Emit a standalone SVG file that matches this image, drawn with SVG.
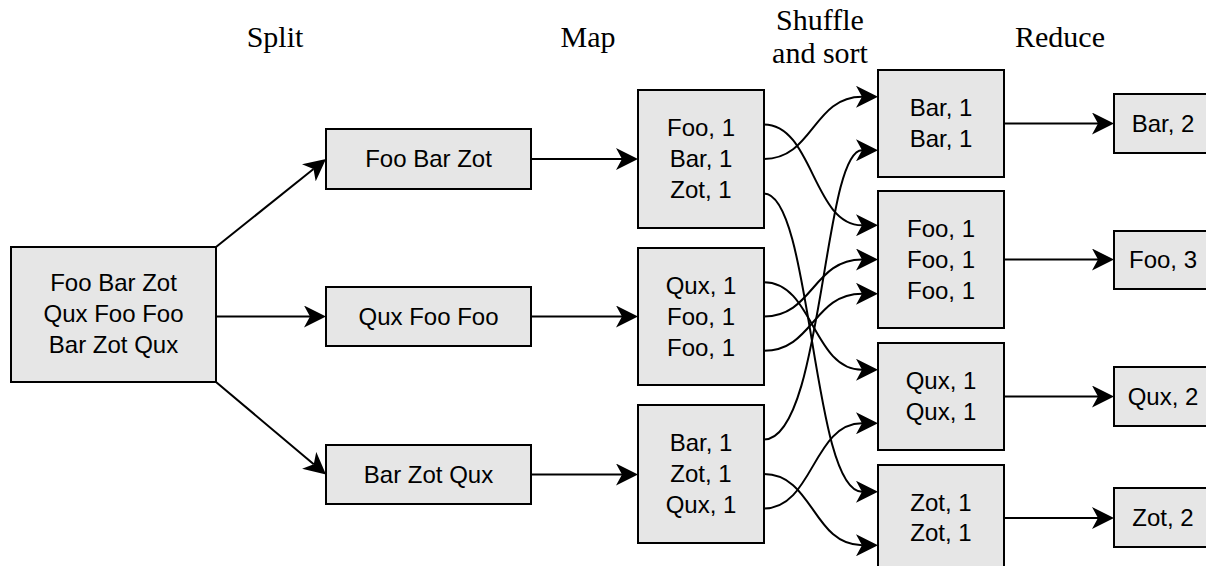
<svg xmlns="http://www.w3.org/2000/svg" width="1206" height="566" viewBox="0 0 1206 566">
<style>
.box{fill:#e6e6e6;stroke:#000;stroke-width:2}
.t{font-family:"Liberation Sans",Arial,sans-serif;font-size:24px;fill:#000;text-anchor:middle}
.h{font-family:"Liberation Serif","Times New Roman",serif;font-size:30px;fill:#000;text-anchor:middle}
.e{fill:none;stroke:#000;stroke-width:2;marker-end:url(#arr)}
</style>
<defs>
<marker id="arr" markerUnits="userSpaceOnUse" viewBox="0 -11 22 22" markerWidth="22" markerHeight="22" refX="6" refY="0" orient="auto">
<path d="M22,0 L0,-11 L6,0 L0,11 Z" fill="#000"/>
</marker>
</defs>
<rect width="1206" height="566" fill="#fff"/>
<g id="titles">
<text class="h" x="275" y="47">Split</text>
<text class="h" x="588" y="47">Map</text>
<text class="h" x="820" y="30">Shuffle</text>
<text class="h" x="820" y="63">and sort</text>
<text class="h" x="1060" y="47">Reduce</text>
</g>
<g id="input">
<rect class="box" x="11" y="247" width="205" height="135"/>
<text class="t" x="113.5" y="291">Foo Bar Zot</text>
<text class="t" x="113.5" y="322">Qux Foo Foo</text>
<text class="t" x="113.5" y="353">Bar Zot Qux</text>
</g>
<g id="split1">
<rect class="box" x="326" y="129" width="205" height="60"/>
<text class="t" x="428.5" y="167">Foo Bar Zot</text>
</g>
<g id="split2">
<rect class="box" x="326" y="287" width="205" height="59"/>
<text class="t" x="428.5" y="325">Qux Foo Foo</text>
</g>
<g id="split3">
<rect class="box" x="326" y="445" width="205" height="59"/>
<text class="t" x="428.5" y="483">Bar Zot Qux</text>
</g>
<g id="map1">
<rect class="box" x="638" y="90" width="126" height="138"/>
<text class="t" x="701" y="136">Foo, 1</text>
<text class="t" x="701" y="167">Bar, 1</text>
<text class="t" x="701" y="198">Zot, 1</text>
</g>
<g id="map2">
<rect class="box" x="638" y="248" width="126" height="137"/>
<text class="t" x="701" y="294">Qux, 1</text>
<text class="t" x="701" y="325">Foo, 1</text>
<text class="t" x="701" y="356">Foo, 1</text>
</g>
<g id="map3">
<rect class="box" x="638" y="405" width="126" height="138"/>
<text class="t" x="701" y="451">Bar, 1</text>
<text class="t" x="701" y="482">Zot, 1</text>
<text class="t" x="701" y="513">Qux, 1</text>
</g>
<g id="sortA">
<rect class="box" x="878" y="70" width="126" height="107"/>
<text class="t" x="941" y="116">Bar, 1</text>
<text class="t" x="941" y="147">Bar, 1</text>
</g>
<g id="sortB">
<rect class="box" x="878" y="191" width="126" height="137"/>
<text class="t" x="941" y="237">Foo, 1</text>
<text class="t" x="941" y="268">Foo, 1</text>
<text class="t" x="941" y="299">Foo, 1</text>
</g>
<g id="sortC">
<rect class="box" x="878" y="343" width="126" height="107"/>
<text class="t" x="941" y="389">Qux, 1</text>
<text class="t" x="941" y="420">Qux, 1</text>
</g>
<g id="sortD">
<rect class="box" x="878" y="465" width="126" height="107"/>
<text class="t" x="941" y="511">Zot, 1</text>
<text class="t" x="941" y="541">Zot, 1</text>
</g>
<g id="outBar">
<rect class="box" x="1114" y="94" width="98" height="59"/>
<text class="t" x="1163" y="132">Bar, 2</text>
</g>
<g id="outFoo">
<rect class="box" x="1114" y="231" width="98" height="58"/>
<text class="t" x="1163" y="268">Foo, 3</text>
</g>
<g id="outQux">
<rect class="box" x="1114" y="367" width="98" height="59"/>
<text class="t" x="1163" y="405">Qux, 2</text>
</g>
<g id="outZot">
<rect class="box" x="1114" y="488" width="98" height="59"/>
<text class="t" x="1163" y="526">Zot, 2</text>
</g>
<g id="connectors">
<path class="e" d="M216,247 L313.5,169"/>
<path class="e" d="M216,316.5 L310,316.5"/>
<path class="e" d="M216,382 L313.75,464.2"/>
<path class="e" d="M531,159 L622,159"/>
<path class="e" d="M531,316.5 L622,316.5"/>
<path class="e" d="M531,474.5 L622,474.5"/>
<path class="e" d="M764,124.5 C813,124.5 813,225.25 862,225.25"/>
<path class="e" d="M764,159 C813,159 813,96.75 862,96.75"/>
<path class="e" d="M764,193.5 C812,193.5 812,491.75 862,491.75"/>
<path class="e" d="M764,282.25 C813,282.25 813,369.75 862,369.75"/>
<path class="e" d="M764,316.5 C813,316.5 813,259.5 862,259.5"/>
<path class="e" d="M764,350.75 C813,350.75 813,293.75 862,293.75"/>
<path class="e" d="M764,439.5 C823,439.5 823,150.25 862,150.25"/>
<path class="e" d="M764,474 C813,474 813,545.25 862,545.25"/>
<path class="e" d="M764,508.5 C813,508.5 813,423.25 862,423.25"/>
<path class="e" d="M1004,123.5 L1098,123.5"/>
<path class="e" d="M1004,259.5 L1098,259.5"/>
<path class="e" d="M1004,396.5 L1098,396.5"/>
<path class="e" d="M1004,518 L1098,518"/>
</g>
</svg>
